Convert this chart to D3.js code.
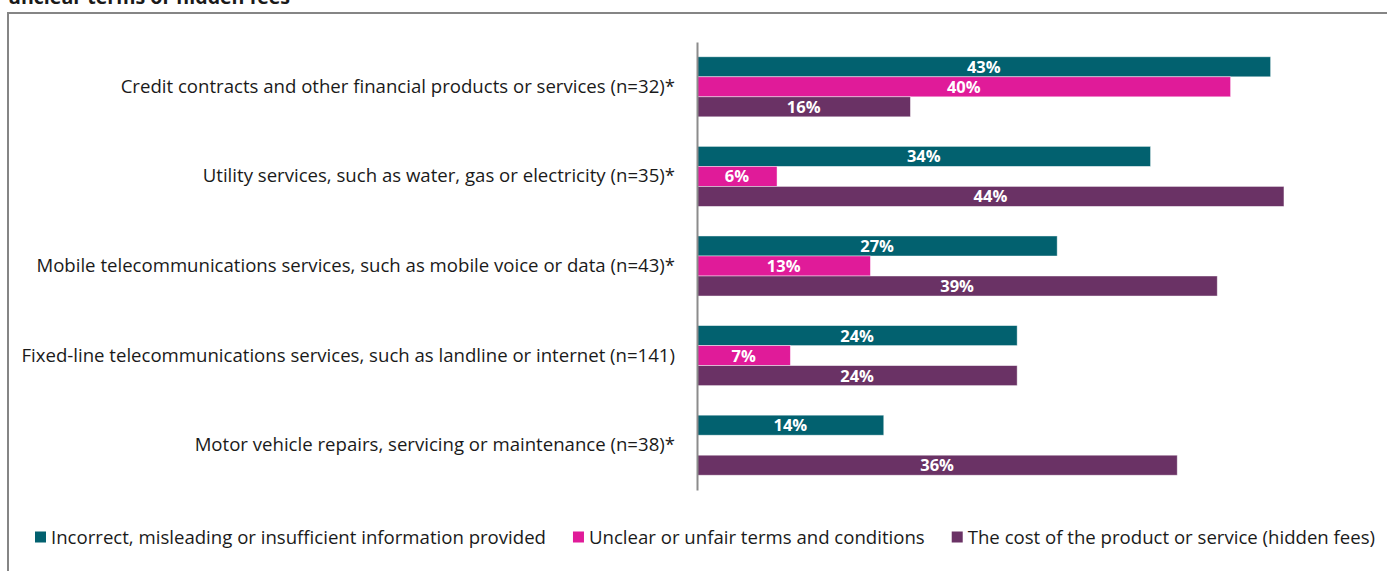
<!DOCTYPE html>
<html>
<head>
<meta charset="utf-8">
<script src="https://cdn.jsdelivr.net/npm/d3@7"></script>
<style>
  html, body { margin: 0; padding: 0; background: #fff; }
  svg { display: block; }
  text { font-family: "Open Sans", "Noto Sans", sans-serif; }
</style>
</head>
<body>
<svg id="chart" width="1387" height="571"></svg>
<script>
// Complaint categories, top to bottom
const categories = [
  "Credit contracts and other financial products or services (n=32)*",
  "Utility services, such as water, gas or electricity (n=35)*",
  "Mobile telecommunications services, such as mobile voice or data (n=43)*",
  "Fixed-line telecommunications services, such as landline or internet (n=141)",
  "Motor vehicle repairs, servicing or maintenance (n=38)*"
];

// Series names (legend order)
const seriesNames = [
  "Incorrect, misleading or insufficient information provided",
  "Unclear or unfair terms and conditions",
  "The cost of the product or service (hidden fees)"
];

// Percentages per series, aligned with categories (null = not shown)
const incorrectInfo = [43, 34, 27, 24, 14];
const unfairTerms   = [40, 6, 13, 7, null];
const hiddenCosts   = [16, 44, 39, 24, 36];

const seriesColors = ["#02616F", "#E01B99", "#6A3265"];

const seriesValues = [incorrectInfo, unfairTerms, hiddenCosts];

const labelFont = "'Open Sans', 'Noto Sans', sans-serif";
const labelSize = 18.6;

const svg = d3.select("#chart");

// Partially visible heading above the frame
svg.append("text")
  .attr("x", 8).attr("y", 4)
  .attr("font-size", 19.6).attr("font-weight", "bold")
  .attr("fill", "#1a1a1a")
  .text("unclear terms or hidden fees");

// Outer frame
svg.append("rect")
  .attr("x", 8).attr("y", 13)
  .attr("width", 1390).attr("height", 600)
  .attr("fill", "none").attr("stroke", "#858585").attr("stroke-width", 2);

const x = d3.scaleLinear().domain([0, 50]).range([697, 1364]);
const y0 = d3.scaleBand().domain(categories).range([42, 490]).paddingInner(0.33).paddingOuter(0.165);
const y1 = d3.scaleBand().domain(d3.range(3)).range([0, y0.bandwidth()]);

const rows = [];
categories.forEach((c, i) => {
  seriesValues.forEach((vals, s) => {
    if (vals[i] != null) rows.push({ cat: c, s, v: vals[i] });
  });
});

const g = svg.append("g");

g.selectAll("rect.bar")
  .data(rows)
  .join("rect")
  .attr("class", "bar")
  .attr("x", x(0))
  .attr("y", d => y0(d.cat) + y1(d.s))
  .attr("width", d => x(d.v) - x(0))
  .attr("height", y1.bandwidth())
  .attr("fill", d => seriesColors[d.s])
  .attr("stroke", "#ffffff").attr("stroke-opacity", 0.55).attr("stroke-width", 0.8);

g.selectAll("text.val")
  .data(rows)
  .join("text")
  .attr("class", "val")
  .attr("x", d => (x(0) + x(d.v)) / 2)
  .attr("y", d => y0(d.cat) + y1(d.s) + y1.bandwidth() / 2)
  .attr("dy", "0.36em")
  .attr("text-anchor", "middle")
  .attr("font-size", 16.5).attr("font-weight", "bold")
  .attr("fill", "#ffffff")
  .text(d => d.v + "%");

// Category axis (line only, labels to the left)
const yAxis = d3.axisLeft(y0).tickSize(0).tickPadding(22);
const ax = svg.append("g").attr("transform", `translate(${x(0)},0)`).call(yAxis);
ax.select(".domain").attr("stroke", "#8c8c8c").attr("stroke-width", 2);
ax.selectAll(".tick text")
  .attr("font-size", labelSize)
  .attr("font-family", labelFont)
  .attr("fill", "#1a1a1a");

// Legend
const legend = svg.append("g").attr("transform", "translate(35,537)");
let lx = 0;
seriesNames.forEach((name, i) => {
  const item = legend.append("g").attr("transform", `translate(${lx},0)`);
  item.append("rect").attr("x", 0).attr("y", -5.5).attr("width", 11).attr("height", 11).attr("fill", seriesColors[i]);
  const t = item.append("text").attr("x", 16).attr("y", 0).attr("dy", "0.36em")
    .attr("font-size", labelSize).attr("fill", "#1a1a1a").text(name);
  lx += 16 + t.node().getComputedTextLength() + 27;
});
</script>
</body>
</html>
